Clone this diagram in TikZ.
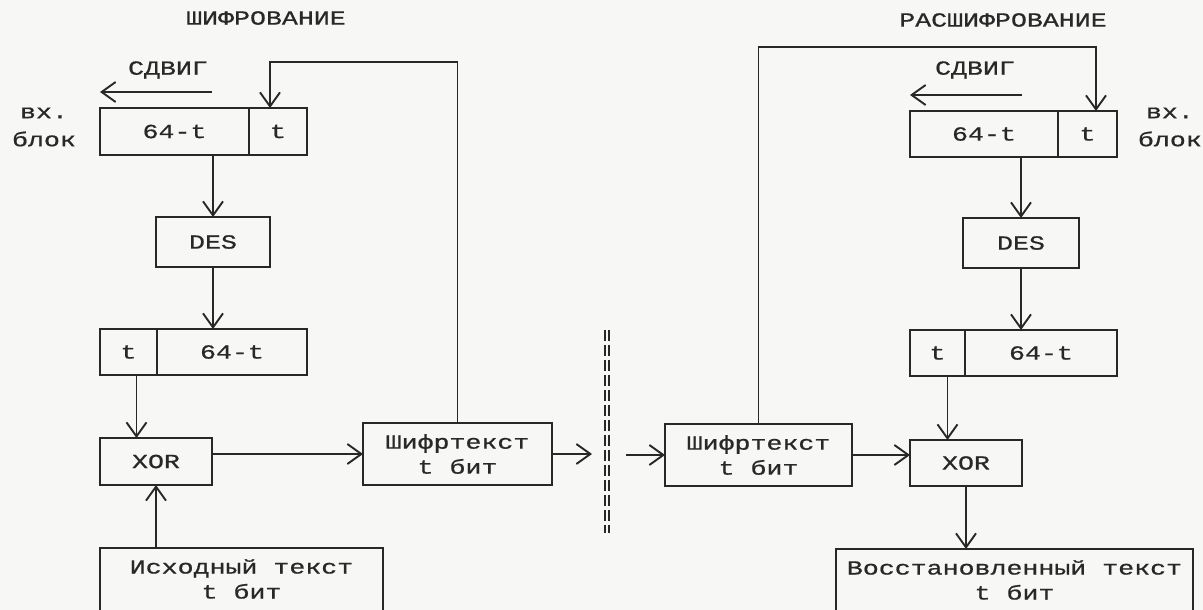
\documentclass[tikz,border=0pt]{standalone}
\usepackage{fontspec}
\newfontfamily\dotfont[FakeStretch=1.33,FakeBold=0.8]{Liberation Mono}
\usepackage{tikz}
\usetikzlibrary{arrows.meta,positioning,calc}
\definecolor{ink}{RGB}{40,40,40}
\definecolor{paper}{RGB}{247,247,245}

\begin{document}
\begin{tikzpicture}[x=1pt, y=-1pt, line width=1.9pt, ink,
  every node/.style={font=\dotfont\fontsize{20}{25}\selectfont, text=ink},
  blk/.style={draw, minimum height=47pt, inner sep=0pt, outer sep=0pt},
  arr/.style={-{Straight Barb[length=14pt,width=20pt]}},
  chan/.style={line width=1.5pt, dash pattern=on 11pt off 4pt}]
  \fill[paper] (0,0) rectangle (1203,610);
  \useasboundingbox (0,0) rectangle (1203,610);

  % Encryption
  \node (titL) at (266,18) {ШИФРОВАНИЕ};
  \node (shiftL) at (168,70) {СДВИГ};
  \node[align=center] (blkL) at (44,127) {вх.\\[3pt]блок};
  \node[blk, minimum width=149pt] (inLa) at (174.5,131.5) {64-t};
  \node[blk, minimum width=58pt, right=0pt of inLa] (inLb) {t};
  \node[blk, minimum width=114pt, minimum height=50pt] (desL) at (213,242) {DES};
  \node[blk, minimum width=57pt, minimum height=46pt] (outLa) at (128.5,352) {t};
  \node[blk, minimum width=150pt, minimum height=46pt, right=0pt of outLa] (outLb) {64-t};
  \node[blk, minimum width=112pt] (xorL) at (156,461.5) {XOR};
  \node[blk, minimum width=189pt, minimum height=62pt, align=center] (ctL) at (457.5,454) {Шифртекст\\t бит};
  \node[blk, minimum width=283pt, minimum height=100pt, anchor=north] (ptL) at (241.5,548) {};
  \node[align=center, below=7pt of ptL.north] (ptLtxt) {Исходный текст\\t бит};

  \coordinate (fbL) at (270,62);
  \coordinate (shLs) at (212,92);
  \coordinate (sendL) at (592,454);
  \draw[arr] (ctL.north) |- (fbL) -- (fbL |- inLb.north);
  \draw[arr] (shLs) -- (shLs -| inLa.west);
  \draw[arr] (inLa.south -| desL.north) -- (desL.north);
  \draw[arr] (desL.south) -- (desL.south |- outLb.north);
  \draw[arr] ([xshift=8pt]outLa.south) -- ([xshift=8pt]outLa.south |- xorL.north);
  \draw[arr] (xorL.south |- ptL.north) -- (xorL.south);
  \draw[arr] (xorL.east |- ctL.west) -- (ctL.west);
  \draw[arr] (ctL.east) -- (sendL);

  % Channel
  \draw[chan] (605,330) -- (605,533);
  \draw[chan] (609,330) -- (609,533);

  % Decryption
  \node (titR) at (1003,20) {РАСШИФРОВАНИЕ};
  \node (shiftR) at (975,70) {СДВИГ};
  \node[align=left, anchor=west, inner xsep=0pt] (blkR) at (1137,127) {\hspace{8pt}вх.\\[3pt]блок};
  \node[blk, minimum width=148pt, minimum height=46pt] (inRa) at (984,134) {64-t};
  \node[blk, minimum width=59pt, minimum height=46pt, right=0pt of inRa] (inRb) {t};
  \node[blk, minimum width=116pt, minimum height=50pt] (desR) at (1021,243) {DES};
  \node[blk, minimum width=55pt, minimum height=46pt] (outRa) at (937.5,353) {t};
  \node[blk, minimum width=152pt, minimum height=46pt, right=0pt of outRa] (outRb) {64-t};
  \node[blk, minimum width=112pt, minimum height=46pt] (xorR) at (966,463) {XOR};
  \node[blk, minimum width=187pt, minimum height=62pt, align=center] (ctR) at (758.5,455) {Шифртекст\\t бит};
  \node[blk, minimum width=357pt, minimum height=100pt, anchor=north] (rtR) at (1014.5,549) {};
  \node[align=center, below=7pt of rtR.north] (rtRtxt) {Восстановленный текст\\t бит};

  \coordinate (fbR) at (1096,47);
  \coordinate (shRs) at (1022,95);
  \coordinate (recvR) at (626,455);
  \draw[arr] (recvR) -- (ctR.west);
  \draw[arr] (ctR.north) |- (fbR) -- (fbR |- inRb.north);
  \draw[arr] (shRs) -- (shRs -| inRa.west);
  \draw[arr] (inRa.south -| desR.north) -- (desR.north);
  \draw[arr] (desR.south) -- (desR.south |- outRb.north);
  \draw[arr] ([xshift=10pt]outRa.south) -- ([xshift=10pt]outRa.south |- xorR.north);
  \draw[arr] (ctR.east) -- (ctR.east -| xorR.west);
  \draw[arr] (xorR.south) -- (xorR.south |- rtR.north);
\end{tikzpicture}
\end{document}
